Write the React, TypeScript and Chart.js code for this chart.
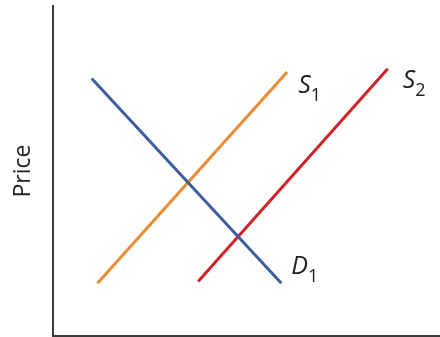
import React, { useEffect, useRef } from "react";
import { Chart, registerables } from "chart.js";

Chart.register(...registerables);

// Curve endpoints (quantity, price) in arbitrary units 0..10
const d1Quantity = [1.0, 5.9];
const d1Price = [7.8, 1.6];
const s1Quantity = [1.15, 6.05];
const s1Price = [1.6, 8.0];
const s2Quantity = [3.75, 8.65];
const s2Price = [1.65, 8.1];

const curveLetters = ["D", "S", "S"];
const curveSubscripts = ["1", "1", "2"];
const yAxisTitle = "Price";

const toPoints = (xs: number[], ys: number[]) => xs.map((x, i) => ({ x, y: ys[i] }));

const labelOffsets = [
  { dx: 10, dy: -9 },
  { dx: 11, dy: 21 },
  { dx: 15, dy: 19 },
];

const curveLabelPlugin = {
  id: "curveLabels",
  afterDatasetsDraw(chart: any) {
    const ctx = chart.ctx;
    ctx.save();
    chart.data.datasets.forEach((ds: any, i: number) => {
      const meta = chart.getDatasetMeta(i);
      const last = meta.data[meta.data.length - 1];
      if (!last) return;
      const off = labelOffsets[i];
      const x = last.x + off.dx;
      const y = last.y + off.dy;
      ctx.fillStyle = "#222222";
      ctx.textBaseline = "alphabetic";
      ctx.textAlign = "left";
      ctx.font = "italic 25px 'Open Sans'";
      const letter = curveLetters[i];
      ctx.fillText(letter, x, y);
      const w = ctx.measureText(letter).width;
      ctx.font = "18px 'Open Sans'";
      ctx.fillText(curveSubscripts[i], x + w, y + 8);
    });
    ctx.restore();
  },
};

export default function App() {
  const canvasRef = useRef<HTMLCanvasElement | null>(null);

  useEffect(() => {
    if (!canvasRef.current) return;
    const chart = new Chart(canvasRef.current, {
      type: "scatter",
      data: {
        datasets: [
          {
            data: toPoints(d1Quantity, d1Price),
            showLine: true,
            borderColor: "#3d5d9b",
            borderWidth: 3,
            pointRadius: 0,
          },
          {
            data: toPoints(s1Quantity, s1Price),
            showLine: true,
            borderColor: "#ec8b32",
            borderWidth: 3,
            pointRadius: 0,
          },
          {
            data: toPoints(s2Quantity, s2Price),
            showLine: true,
            borderColor: "#cf2229",
            borderWidth: 3,
            pointRadius: 0,
          },
        ],
      },
      options: {
        animation: false,
        responsive: false,
        devicePixelRatio: 1,
        layout: { padding: { left: 0, top: 6, right: 0, bottom: 1 } },
        plugins: {
          legend: { display: false },
          tooltip: { enabled: false },
        },
        scales: {
          x: {
            type: "linear",
            min: 0,
            max: 10,
            ticks: { display: false },
            grid: { display: false, drawTicks: false },
            border: { display: true, color: "#3c3c3c", width: 2 },
          },
          y: {
            type: "linear",
            min: 0,
            max: 10,
            ticks: { display: false },
            grid: { display: false, drawTicks: false },
            border: { display: true, color: "#3c3c3c", width: 2 },
            title: {
              display: true,
              text: yAxisTitle,
              color: "#222222",
              font: { family: "'Open Sans'", size: 23 },
              padding: { top: 10, bottom: 15.4 },
            },
          },
        },
      },
      plugins: [curveLabelPlugin],
    });
    return () => chart.destroy();
  }, []);

  return (
    <div style={{ position: "absolute", left: 0, top: 0, width: 440, height: 337, background: "#ffffff" }}>
      <canvas ref={canvasRef} width={440} height={337} />
    </div>
  );
}
